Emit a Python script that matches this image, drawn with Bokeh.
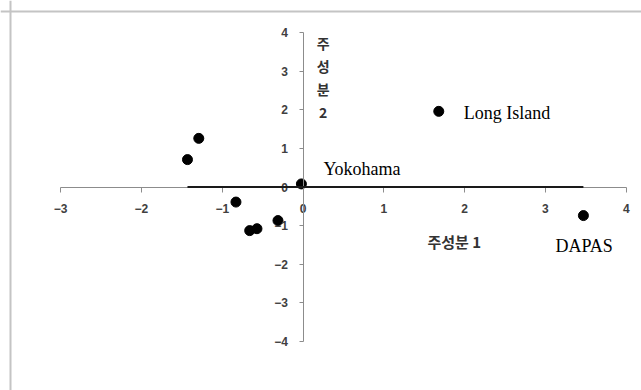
from bokeh.plotting import figure
from bokeh.models import ColumnDataSource, FixedTicker, Label, Span, Range1d
from bokeh.core.properties import value
from bokeh.embed import file_html
from bokeh.resources import INLINE

# ---- data ----
pc1 = [-1.43, -1.29, -0.83, -0.66, -0.57, -0.31, -0.02, 1.68, 3.47]
pc2 = [0.71, 1.26, -0.39, -1.13, -1.08, -0.87, 0.08, 1.96, -0.74]
names = ["", "", "", "", "", "", "Yokohama", "Long Island", "DAPAS"]
x_ticks = [-3, -2, -1, 0, 1, 2, 3, 4]
y_ticks = [-4, -3, -2, -1, 0, 1, 2, 3, 4]
x_title = "주성분 1"
y_title = "주\n성\n분\n2"

# label offsets (pixels) - style only
lab_dx = [0, 0, 0, 0, 0, 0, 22, 25, -28]
lab_dy = [0, 0, 0, 0, 0, 0, -15, 2, 30]

W, H = 641, 390
x_rng = Range1d(-3.744, 4.189)
y_rng = Range1d(-5.272, 4.832)

p = figure(width=W, height=H, x_range=x_rng, y_range=y_rng,
           output_backend="svg", toolbar_location=None,
           min_border_left=0, min_border_right=0, min_border_top=0, min_border_bottom=0)
p.outline_line_color = None
p.grid.visible = False
p.background_fill_color = "white"
p.border_fill_color = "white"

# frame borders (top and left)
px_x = W / (x_rng.end - x_rng.start)
px_y = H / (y_rng.end - y_rng.start)
p.add_layout(Span(location=x_rng.start + 10 / px_x, dimension="height",
                  line_color="#c4c4c4", line_width=2))
p.add_layout(Span(location=y_rng.end - 11 / px_y, dimension="width",
                  line_color="#c4c4c4", line_width=2))

for ax, ticks in ((p.xaxis[0], x_ticks), (p.yaxis[0], y_ticks)):
    ax.fixed_location = 0
    ax.bounds = (min(ticks), max(ticks))
    ax.ticker = FixedTicker(ticks=ticks)
    ax.minor_tick_line_color = None
    ax.axis_line_color = "#8c8c8c"
    ax.major_tick_line_color = "#8c8c8c"
    ax.major_tick_in = 0
    ax.major_label_text_font = "Liberation Sans"
    ax.major_label_text_font_size = "12px"
    ax.major_label_text_font_style = "bold"
    ax.major_label_text_color = "#404040"

p.xaxis[0].major_tick_out = 5
p.xaxis[0].major_label_standoff = 12
p.yaxis[0].major_tick_out = 4
p.yaxis[0].major_label_standoff = 11

src = ColumnDataSource(dict(x=pc1, y=pc2, name=names, dx=lab_dx, dy=lab_dy))

# horizontal reference line across the data range
hl = p.line(x=[min(pc1), max(pc1)], y=[0, 0], line_color="#1a1a1a", line_width=2)
hl.level = "overlay"

p.scatter("x", "y", source=src, size=10, color="black")

p.text("x", "y", text="name", source=src, x_offset="dx", y_offset="dy",
       text_font=value("Liberation Serif"), text_font_size="18px",
       text_color="black", text_baseline="middle", text_align="left")

p.add_layout(Label(x=1.54, y=-1.41, text=x_title, text_font="Noto Sans CJK KR",
                   text_font_size="15px", text_font_style="bold", text_color="#333333",
                   text_baseline="middle", text_align="left"))
p.add_layout(Label(x=0.25, y=3.98, text=y_title, text_font="Noto Sans CJK KR",
                   text_font_size="14px", text_font_style="bold", text_color="#333333",
                   text_baseline="top", text_align="center", text_line_height=1.15))

open("out.html", "w").write(file_html(p, INLINE))
